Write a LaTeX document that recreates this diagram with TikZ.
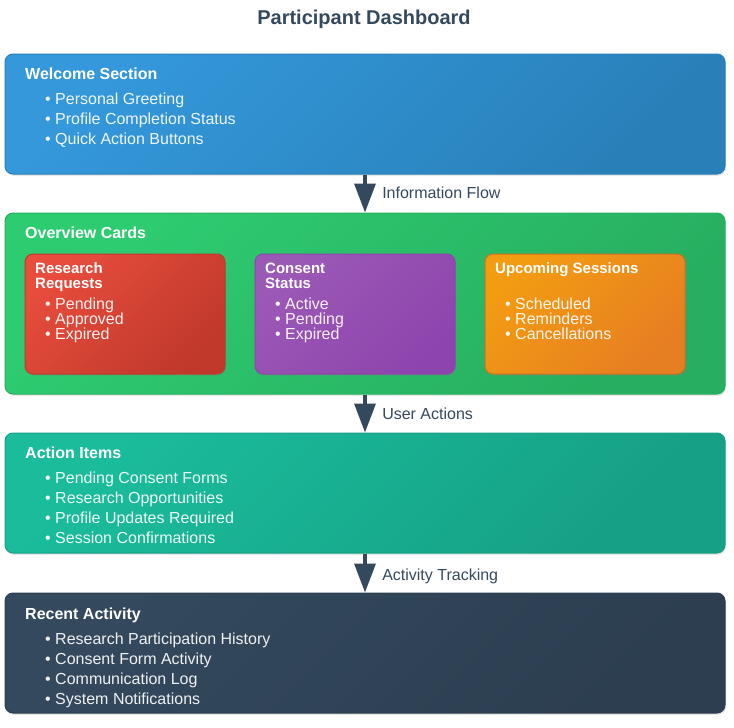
\documentclass[tikz,border=0pt]{standalone}
\usepackage{fontspec}
\setmainfont{Liberation Sans}
\usetikzlibrary{arrows.meta, shadows}

\definecolor{slate}{HTML}{34495E}
\definecolor{blueA}{HTML}{3498DB}   \definecolor{blueB}{HTML}{2980B9}
\definecolor{greenA}{HTML}{2ECC71}  \definecolor{greenB}{HTML}{27AE60}
\definecolor{redA}{HTML}{E74C3C}    \definecolor{redB}{HTML}{C0392B}
\definecolor{purpleA}{HTML}{9B59B6} \definecolor{purpleB}{HTML}{8E44AD}
\definecolor{orangeA}{HTML}{F39C12} \definecolor{orangeB}{HTML}{E67E22}
\definecolor{tealA}{HTML}{1ABC9C}   \definecolor{tealB}{HTML}{16A085}
\definecolor{darkA}{HTML}{34495E}   \definecolor{darkB}{HTML}{2C3E50}

\tikzstyle{panel} = [rectangle, rounded corners=8pt, line width=1pt, inner sep=0pt,
   drop shadow={opacity=0.18, shadow xshift=1pt, shadow yshift=-2pt}]
\tikzstyle{wide} = [panel, minimum width=720pt, minimum height=120pt]
\tikzstyle{card} = [panel, minimum width=200pt, minimum height=120pt,
   drop shadow={opacity=0.12, shadow xshift=1pt, shadow yshift=-1pt}]
\tikzstyle{bluePanel} = [top color=blueA, bottom color=blueB, draw=blueB, shading angle=45]
\tikzstyle{greenPanel} = [top color=greenA, bottom color=greenB, draw=greenB, shading angle=45]
\tikzstyle{redPanel} = [top color=redA, bottom color=redB, draw=redB, shading angle=45]
\tikzstyle{purplePanel} = [top color=purpleA, bottom color=purpleB, draw=purpleB, shading angle=45]
\tikzstyle{orangePanel} = [top color=orangeA, bottom color=orangeB, draw=orangeB!90!black, shading angle=45]
\tikzstyle{tealPanel} = [top color=tealA, bottom color=tealB, draw=tealB, shading angle=45]
\tikzstyle{darkPanel} = [top color=darkA, bottom color=darkB, draw=darkB, shading angle=45]
\tikzstyle{heading} = [anchor=base west, inner sep=0pt, text=white,
   font=\bfseries\fontsize{16}{16}\selectfont]
\tikzstyle{cardHead} = [heading, font=\bfseries\fontsize{15}{15}\selectfont]
\tikzstyle{item} = [anchor=base west, inner sep=0pt, text=white, text opacity=0.92,
   font=\fontsize{16}{16}\selectfont]
\tikzstyle{flowArrow} = [draw=slate, line width=3.5pt, -{Triangle[width=21pt,length=29pt]}]
\tikzstyle{flowLabel} = [pos=0.5, anchor=base west, xshift=15.5pt, yshift=-5pt, inner sep=0pt,
   text=slate, font=\fontsize{16}{16}\selectfont]

\begin{document}
\begin{tikzpicture}[x=1pt, y=-1pt]
  \useasboundingbox (0,0) rectangle (734,728);

  \node[anchor=base, inner sep=0pt, text=slate, font=\bfseries\fontsize{20}{20}\selectfont]
     (title) at (364,24) {Participant Dashboard};

  % main sections
  \node[wide, bluePanel] (welcome) at (365,114) {};
  \node[wide, greenPanel, minimum height=181pt] (overview) at (365,303.5) {};
  \node[wide, tealPanel] (actions) at (365,493) {};
  \node[wide, darkPanel] (recent) at (365,653) {};

  % overview cards
  \node[card, redPanel] (requests) at (125,314) {};
  \node[card, purplePanel] (consent) at (355,314) {};
  \node[card, orangePanel] (sessions) at (585,314) {};

  % welcome section
  \node[heading] (welcome-head) at (25,79) {Welcome Section};
  \foreach \txt [count=\i] in {Personal Greeting, Profile Completion Status, Quick Action Buttons}
    \node[item] (welcome-\i) at (45,84.5+20*\i) {• \txt};

  % overview
  \node[heading] (overview-head) at (25,238) {Overview Cards};
  \node[cardHead] (requests-h1) at (35,273) {Research};
  \node[cardHead] (requests-h2) at (35,288.5) {Requests};
  \foreach \txt [count=\i] in {Pending, Approved, Expired}
    \node[item] (requests-\i) at (45,294+15*\i) {• \txt};
  \node[cardHead] (consent-h1) at (265,273) {Consent};
  \node[cardHead] (consent-h2) at (265,288.5) {Status};
  \foreach \txt [count=\i] in {Active, Pending, Expired}
    \node[item] (consent-\i) at (275,294+15*\i) {• \txt};
  \node[cardHead] (sessions-h1) at (495,273) {Upcoming Sessions};
  \foreach \txt [count=\i] in {Scheduled, Reminders, Cancellations}
    \node[item] (sessions-\i) at (505,294+15*\i) {• \txt};

  % action items
  \node[heading] (actions-head) at (25,458) {Action Items};
  \foreach \txt [count=\i] in {Pending Consent Forms, Research Opportunities,
      Profile Updates Required, Session Confirmations}
    \node[item] (actions-\i) at (45,463.5+20*\i) {• \txt};

  % recent activity
  \node[heading] (recent-head) at (25,619) {Recent Activity};
  \foreach \txt [count=\i] in {Research Participation History, Consent Form Activity,
      Communication Log, System Notifications}
    \node[item] (recent-\i) at (45,624.5+20*\i) {• \txt};

  % flow between sections
  \draw[flowArrow] (welcome.south) -- (overview.north) node[flowLabel] {Information Flow};
  \draw[flowArrow] (overview.south) -- (actions.north) node[flowLabel, yshift=-1pt] {User Actions};
  \draw[flowArrow] (actions.south) -- (recent.north) node[flowLabel, yshift=-2.5pt] {Activity Tracking};
\end{tikzpicture}
\end{document}
